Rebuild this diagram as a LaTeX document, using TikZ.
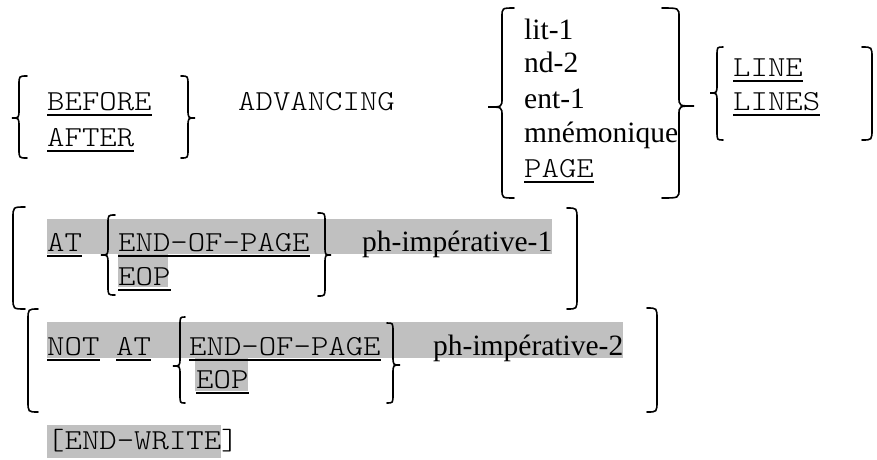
\documentclass[tikz,border=0pt]{standalone}
\usepackage{fontspec}
\setmainfont{Liberation Serif}
\setmonofont{Latin Modern Mono Light}[FakeStretch=1.143]
\usetikzlibrary{positioning}
\definecolor{hlgray}{HTML}{C0C0C0}

% curly brace: end x, stem x, tip x, top, middle, bottom
\newcommand{\curlybr}[6]{(#1,#4) .. controls (#2,#4) .. (#2,#4+9) -- (#2,#5-9) .. controls (#2,#5) .. (#3,#5) .. controls (#2,#5) .. (#2,#5+9) -- (#2,#6-9) .. controls (#2,#6) .. (#1,#6)}
% bracket with round ends: end x, stem x, top, bottom
\newcommand{\roundbr}[4]{(#1,#3) .. controls (#2,#3) .. (#2,#3+11) -- (#2,#4-11) .. controls (#2,#4) .. (#1,#4)}

\begin{document}
\begin{tikzpicture}[x=1pt, y=-1pt,
    kw/.style={font=\ttfamily\fontsize{29}{34}\selectfont, inner sep=0pt, anchor=base west},
    wd/.style={font=\rmfamily\fontsize{29.5}{34}\selectfont, inner sep=0pt, anchor=base west},
    brc/.style={line width=1.6pt, line cap=round},
    hl/.style={fill=hlgray},
    uline/.style={line width=2pt}
  ]
  \useasboundingbox (0,0) rectangle (877,459);

  % highlighted parts
  \fill[hl] (47,219) rectangle (552,254);
  \fill[hl] (118,254) rectangle (168,287);
  \fill[hl] (47,322) rectangle (623,358);
  \fill[hl] (195,358) rectangle (248,391);
  \fill[hl] (47,425) rectangle (221,458);

  % BEFORE / AFTER ADVANCING
  \node[kw] (before)    at (47,110)  {BEFORE};
  \node[kw] (after)     at (47,146)  {AFTER};
  \node[kw] (advancing) at (238,110) {ADVANCING};
  \node[wd] (lit)       at (524,39)  {lit-1};
  \node[wd] (nd)        at (524,72)  {nd-2};
  \node[wd] (ent)       at (524,108) {ent-1};
  \node[wd] (mnemo)     at (524,142) {mnémonique};
  \node[kw] (page)      at (524,177) {PAGE};
  \node[kw] (line)      at (733,76)  {LINE};
  \node[kw] (lines)     at (733,110) {LINES};

  % AT END-OF-PAGE
  \node[kw] (at1)     at (47,251)  {AT};
  \node[kw] (eopage1) at (118,251) {END-OF-PAGE};
  \node[kw] (eop1)    at (118,285) {EOP};
  \node[wd] (imp1)    at (362,251) {ph-impérative-1};

  % NOT AT END-OF-PAGE
  \node[kw] (not)     at (47,355)  {NOT};
  \node[kw] (at2)     at (116,355) {AT};
  \node[kw] (eopage2) at (189,355) {END-OF-PAGE};
  \node[kw] (eop2)    at (196,388) {EOP};
  \node[wd] (imp2)    at (433,355) {ph-impérative-2};

  \node[kw] (endwrite) at (47,449) {[END-WRITE]};

  \foreach \n in {before,after,page,line,lines,at1,eopage1,eop1,not,at2,eopage2,eop2}
    \draw[uline] ([yshift=-4.5pt]\n.base west) -- ([yshift=-4.5pt]\n.base east);

  % braces and brackets
  \draw[brc] \curlybr{27}{19}{12}{76}{118}{158};
  \draw[brc] \curlybr{181}{188}{195}{76}{118}{158};
  \draw[brc] \curlybr{514}{502}{488}{8}{107}{198};
  \draw[brc] \curlybr{662}{679}{694}{8}{106}{198};
  \draw[brc] \curlybr{723}{717}{710}{47}{93}{140};
  \draw[brc] \roundbr{862}{872}{47}{140};

  \draw[brc] \roundbr{25}{13}{207}{309};
  \draw[brc] \roundbr{567}{577}{208}{309};
  \draw[brc] \curlybr{115}{108}{101}{215}{255}{295};
  \draw[brc] \curlybr{318}{325}{331}{213}{255}{296};

  \draw[brc] \roundbr{38}{28}{309}{412};
  \draw[brc] \roundbr{647}{657}{308}{412};
  \draw[brc] \curlybr{185}{180}{173}{317}{366}{403};
  \draw[brc] \curlybr{387}{393}{400}{323}{365}{403};
\end{tikzpicture}
\end{document}
